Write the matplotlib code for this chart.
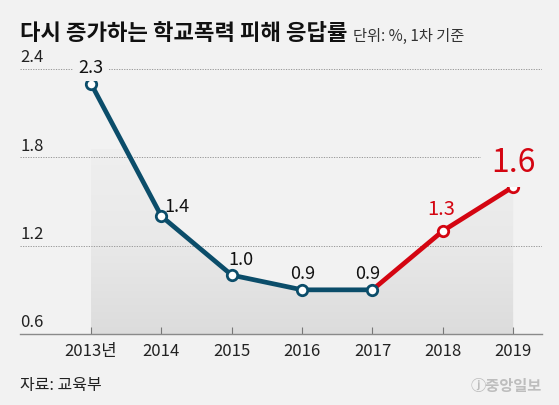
import numpy as np
import matplotlib
matplotlib.use("Agg")
import matplotlib.pyplot as plt
from matplotlib.colors import LinearSegmentedColormap

plt.rcParams['font.family'] = ['Noto Sans CJK KR', 'DejaVu Sans']

years = [2013, 2014, 2015, 2016, 2017, 2018, 2019]
year_labels = ['2013년', '2014', '2015', '2016', '2017', '2018', '2019']
rates = [2.3, 1.4, 1.0, 0.9, 0.9, 1.3, 1.6]
y_ticks = [0.6, 1.2, 1.8, 2.4]
y_tick_labels = ['0.6', '1.2', '1.8', '2.4']

BG = '#f2f2f2'
BLUE = '#0b4d6a'
RED = '#d40511'

fig = plt.figure(figsize=(5.59, 4.06), dpi=100, facecolor=BG)
ax = fig.add_axes([20/559, (406-335)/406, (542-20)/559, (335-70)/406])
ax.set_facecolor(BG)

# gradient shading under the line, faded out near the 1.8 level
poly = ax.fill_between(years, 0.6, rates, color='none', lw=0)
cmap = LinearSegmentedColormap.from_list('g', ['#dcdcdc', '#e9e9e9', '#efefef'])
grad = np.linspace(0, 1, 256).reshape(-1, 1)
img = ax.imshow(grad, cmap=cmap, aspect='auto', origin='lower',
                extent=[years[0], years[-1], 0.6, 1.85], zorder=1)
img.set_clip_path(poly.get_paths()[0], ax.transData)
ax.set_xlim(2011.99, 2019.41)
ax.set_ylim(0.6, 2.4)

# dotted gridlines + y labels sitting above them
for v in y_ticks[1:]:
    ax.axhline(v, color='#9a9a9a', lw=0.7, ls=(0, (1.3, 1.3)), zorder=2)
for v, lab in zip(y_ticks, y_tick_labels):
    ax.text(0, v + 0.025, lab, transform=ax.get_yaxis_transform(),
            ha='left', va='bottom', fontsize=12, color='#222222')

# lines
ax.plot(years[:5], rates[:5], color=BLUE, lw=3.4, zorder=4, solid_capstyle='round')
ax.plot(years[4:], rates[4:], color=RED, lw=3.4, zorder=4, solid_capstyle='round')
for i, (x, y) in enumerate(zip(years, rates)):
    c = BLUE if i <= 4 else RED
    ax.plot(x, y, 'o', ms=7.5, mfc='white', mec=c, mew=2, zorder=5)

# data labels (the ones near gridlines get a background box to break the line)
offsets = [(0, 17), (16, 10), (9, 16), (1, 17), (-5, 17), (-2, 22), (0, 25)]
for i, (x, y) in enumerate(zip(years, rates)):
    dx, dy = offsets[i]
    if i == 6:
        fs, col = 23, RED
    elif i == 5:
        fs, col = 14.5, RED
    else:
        fs, col = 13, '#111111'
    box = None
    if i in (0, 6):
        box = dict(boxstyle='square,pad=0.3', fc=BG, ec='none')
    ax.annotate(f'{y:.1f}', (x, y), xytext=(dx, dy), textcoords='offset pixels',
                ha='center', va='center', fontsize=fs, color=col, zorder=6,
                bbox=box)

# axes styling
for s in ['top', 'right', 'left']:
    ax.spines[s].set_visible(False)
ax.spines['bottom'].set_color('#8a8a8a')
ax.spines['bottom'].set_linewidth(1)
ax.set_yticks([])
ax.set_xticks(years)
ax.set_xticklabels(year_labels, fontsize=12, color='#222222')
ax.tick_params(axis='x', direction='in', length=5, width=0.8, color='#777777', pad=6)

# title and notes
fig.text(20/559, 1 - 34/406, '다시 증가하는 학교폭력 피해 응답률', fontsize=16,
         fontweight='bold', color='#111111', ha='left', va='center')
fig.text(353/559, 1 - 36/406, '단위: %, 1차 기준', fontsize=11,
         color='#333333', ha='left', va='center')
fig.text(20/559, 1 - 386/406, '자료: 교육부', fontsize=11.5, color='#222222',
         ha='left', va='center')
fig.text(542/559, 1 - 386/406, 'ⓙ중앙일보', fontsize=11, color='#bdbdbd',
         ha='right', va='center', fontweight='bold')

fig.savefig('out.png', dpi=100, facecolor=BG)
